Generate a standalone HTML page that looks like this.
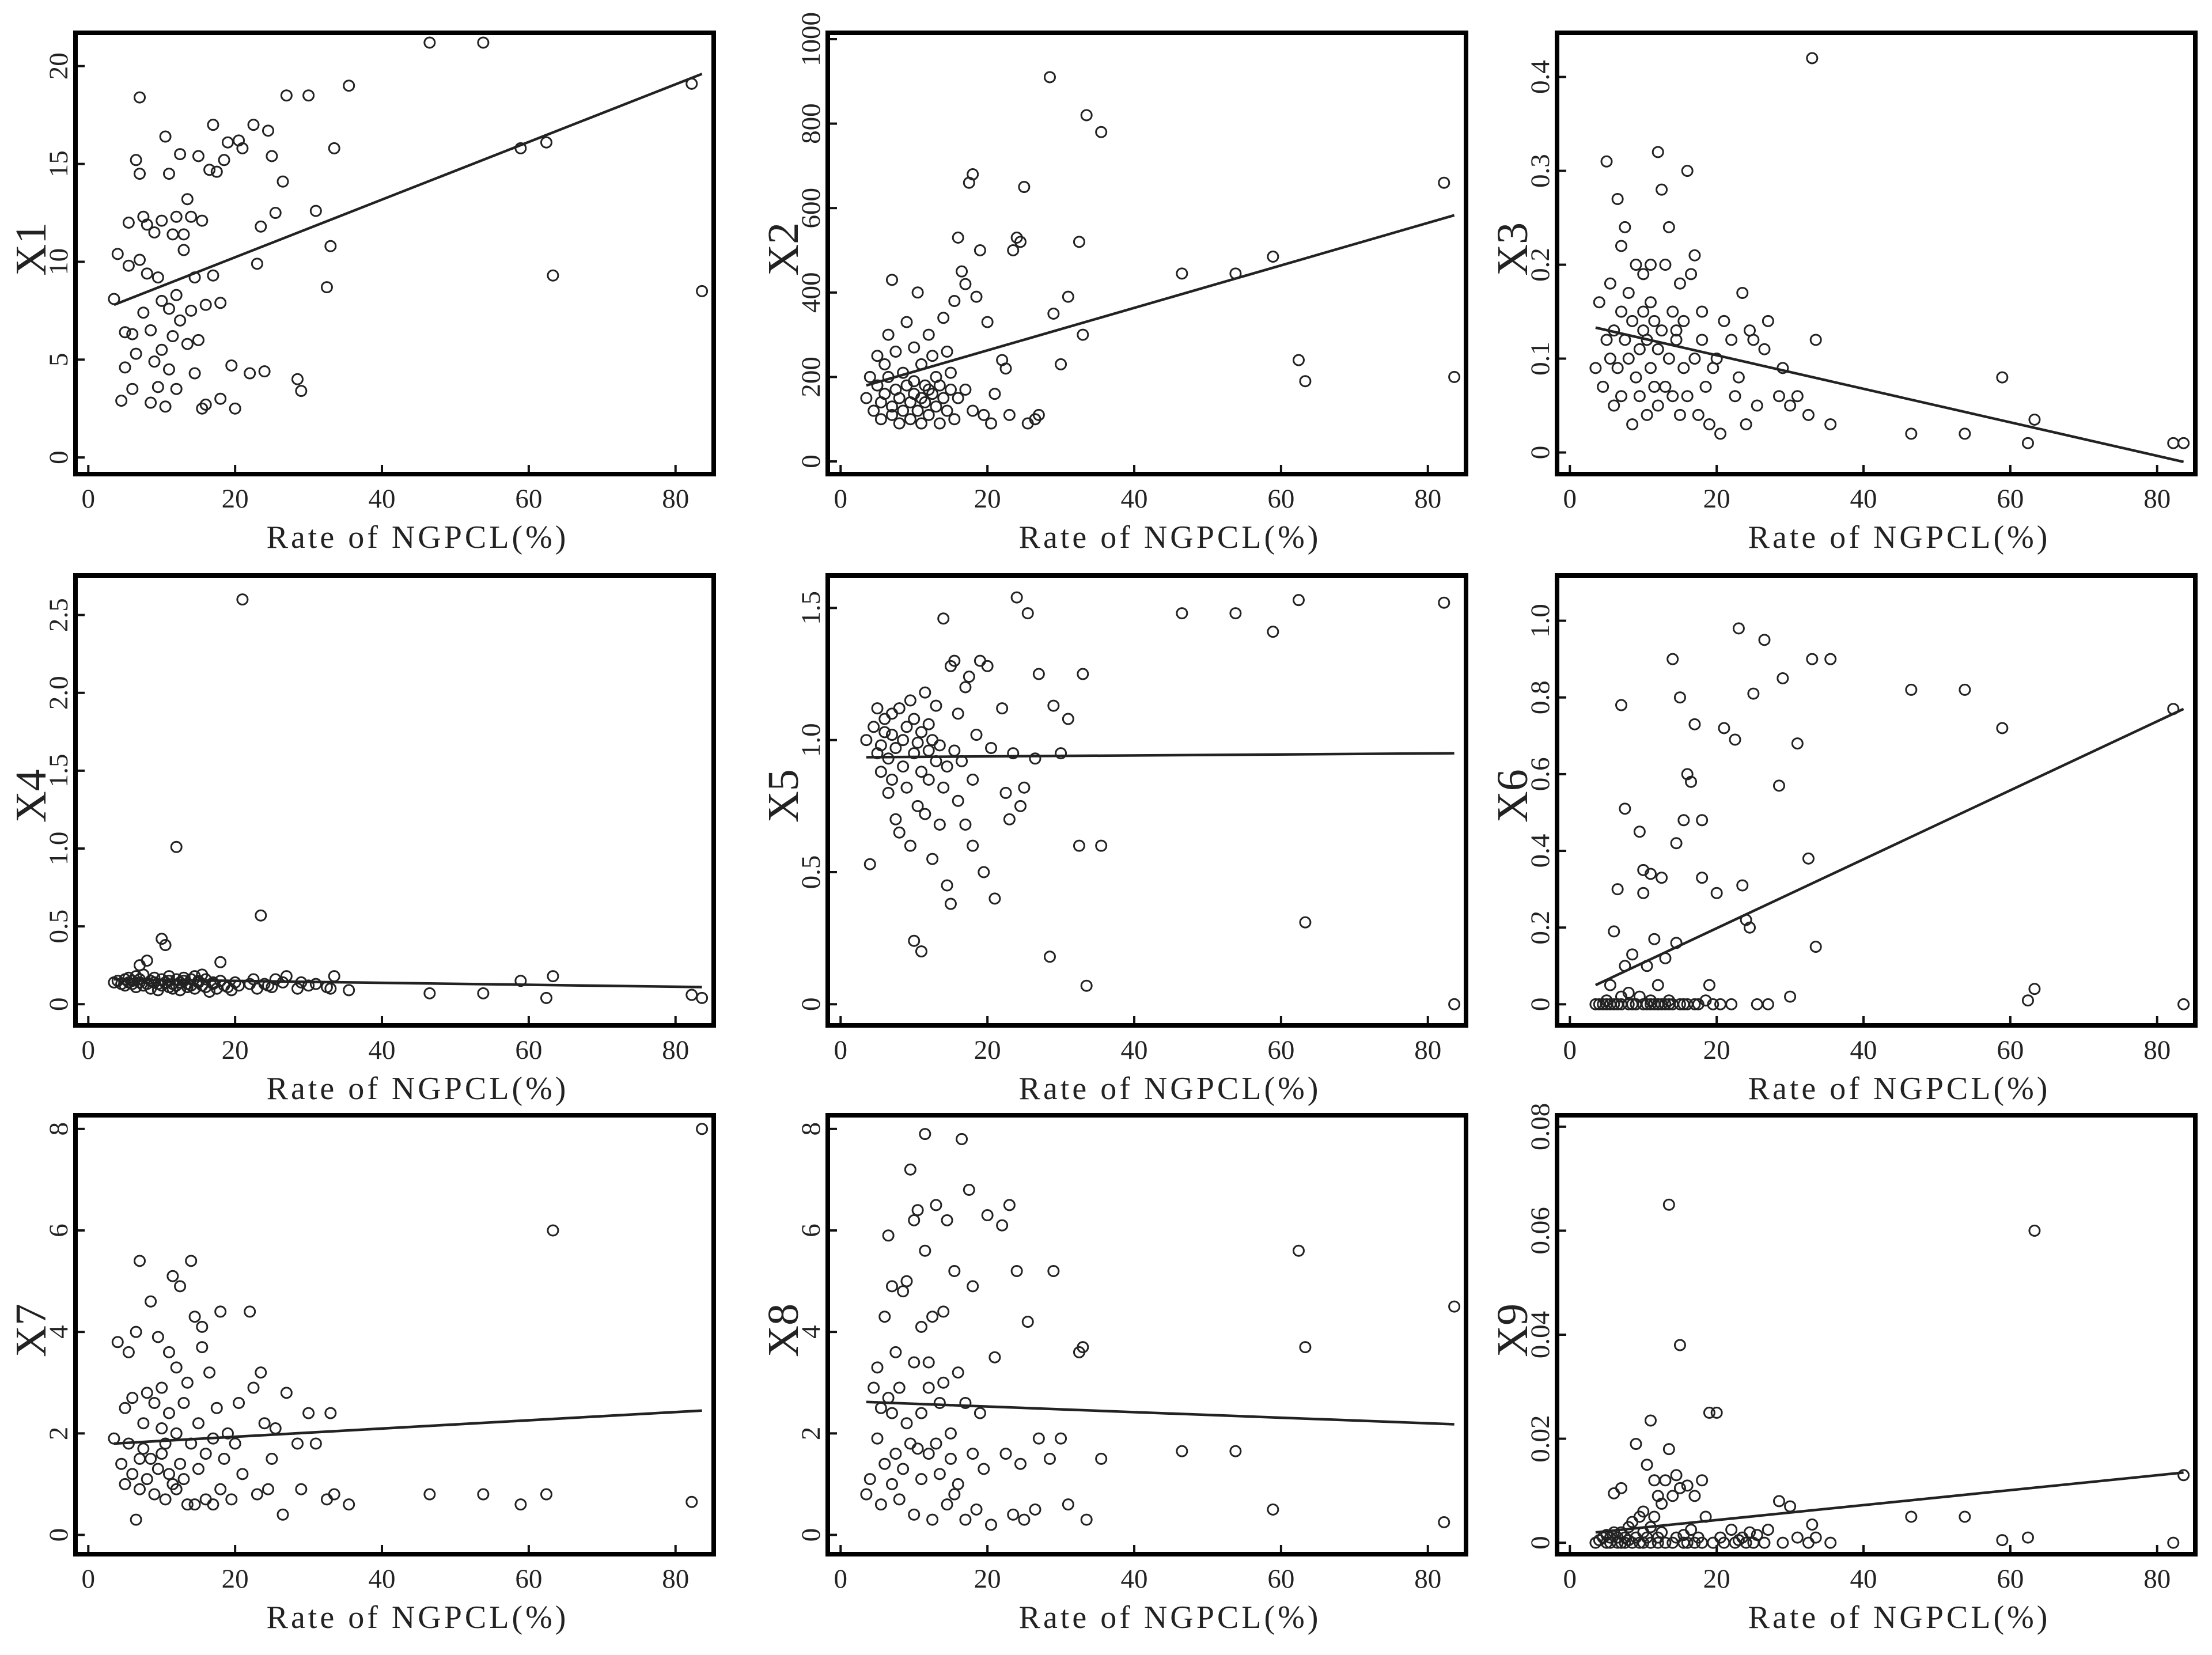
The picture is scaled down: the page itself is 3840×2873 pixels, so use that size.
<!DOCTYPE html>
<html><head><meta charset="utf-8"><style>
html,body{margin:0;padding:0;background:#fff;}
svg{display:block;font-family:"Liberation Serif",serif;}
</style></head><body>
<svg id="fig" width="3840" height="2873" viewBox="0 0 3840 2873" xmlns="http://www.w3.org/2000/svg">
<rect width="3840" height="2873" fill="#fff"/>
</svg>
<script>
const xRate = [3.5,4,4.5,5,5,5.5,5.5,6,6,6.5,6.5,7,7,7,7.5,7.5,8,8,8.5,8.5,9,9,9.5,9.5,10,10,10,10.5,10.5,11,11,11,11.5,11.5,12,12,12,12.5,12.5,13,13,13.5,13.5,14,14,14.5,14.5,15,15,15.5,15.5,16,16,16.5,17,17,17.5,18,18,18.5,19,19.5,20,20.5,21,22,22.5,23,23.5,24,24.5,25,25.5,26.5,27,28.5,29,30,31,32.5,33,33.5,35.5,46.5,53.8,58.9,62.4,63.3,82.2,83.6];
const yX1 = [8.1,10.4,2.9,6.4,4.6,12,9.8,6.3,3.5,5.3,15.2,10.1,18.4,14.5,7.4,12.3,11.9,9.4,2.8,6.5,11.5,4.9,3.6,9.2,8,12.1,5.5,2.6,16.4,7.6,14.5,4.5,11.4,6.2,8.3,12.3,3.5,15.5,7,11.4,10.6,13.2,5.8,7.5,12.3,4.3,9.2,15.4,6,12.1,2.5,7.8,2.7,14.7,9.3,17,14.6,7.9,3,15.2,16.1,4.7,2.5,16.2,15.8,4.3,17,9.9,11.8,4.4,16.7,15.4,12.5,14.1,18.5,4,3.4,18.5,12.6,8.7,10.8,15.8,19,21.2,21.2,15.8,16.1,9.3,19.1,8.5];
const yX2 = [150,200,120,250,180,100,140,230,160,300,200,110,130,430,170,260,90,150,210,120,330,180,140,100,270,160,190,120,400,150,230,90,180,140,300,170,110,250,160,130,200,90,180,150,340,120,260,210,170,100,380,530,150,450,170,420,660,680,120,390,500,110,330,90,160,240,220,110,500,530,520,650,90,100,110,910,350,230,390,520,300,820,780,445,445,485,240,190,660,200];
const yX3 = [0.09,0.16,0.07,0.31,0.12,0.18,0.1,0.05,0.13,0.27,0.09,0.15,0.22,0.06,0.12,0.24,0.1,0.17,0.03,0.14,0.2,0.08,0.11,0.06,0.15,0.19,0.13,0.04,0.12,0.2,0.09,0.16,0.07,0.14,0.32,0.11,0.05,0.28,0.13,0.2,0.07,0.24,0.1,0.15,0.06,0.13,0.12,0.04,0.18,0.09,0.14,0.3,0.06,0.19,0.1,0.21,0.04,0.15,0.12,0.07,0.03,0.09,0.1,0.02,0.14,0.12,0.06,0.08,0.17,0.03,0.13,0.12,0.05,0.11,0.14,0.06,0.09,0.05,0.06,0.04,0.42,0.12,0.03,0.02,0.02,0.08,0.01,0.035,0.01,0.01];
const yX4 = [0.14,0.15,0.13,0.16,0.12,0.14,0.17,0.13,0.15,0.18,0.11,0.25,0.14,0.16,0.12,0.19,0.13,0.28,0.1,0.15,0.14,0.17,0.09,0.13,0.16,0.42,0.12,0.38,0.14,0.11,0.18,0.15,0.1,0.13,0.16,1.01,0.12,0.14,0.09,0.15,0.17,0.11,0.13,0.16,0.12,0.1,0.18,0.14,0.15,0.19,0.12,0.11,0.16,0.08,0.13,0.14,0.1,0.27,0.15,0.12,0.11,0.09,0.14,0.12,2.6,0.13,0.16,0.1,0.57,0.13,0.12,0.11,0.16,0.14,0.18,0.1,0.14,0.12,0.13,0.11,0.1,0.18,0.09,0.07,0.07,0.15,0.04,0.18,0.06,0.04];
const yX5 = [1.0,0.53,1.05,0.95,1.12,0.98,0.88,1.08,1.03,0.8,0.93,1.02,0.85,1.1,0.7,0.97,1.12,0.65,1.0,0.9,1.05,0.82,1.15,0.6,0.95,0.24,1.08,0.75,0.99,0.2,1.03,0.88,1.18,0.72,0.96,1.06,0.85,1.0,0.55,0.92,1.13,0.68,0.98,0.82,1.46,0.45,0.9,1.28,0.38,0.96,1.3,0.77,1.1,0.92,1.2,0.68,1.24,0.85,0.6,1.02,1.3,0.5,1.28,0.97,0.4,1.12,0.8,0.7,0.95,1.54,0.75,0.82,1.48,0.93,1.25,0.18,1.13,0.95,1.08,0.6,1.25,0.07,0.6,1.48,1.48,1.41,1.53,0.31,1.52,0.0];
const yX6 = [0.0,0.0,0.0,0.01,0.0,0.05,0.0,0.19,0.0,0.3,0.0,0.78,0.02,0.0,0.51,0.1,0.0,0.03,0.0,0.13,0.0,0.0,0.45,0.02,0.35,0.0,0.29,0.0,0.1,0.0,0.01,0.34,0.0,0.17,0.0,0.05,0.0,0.33,0.0,0.12,0.0,0.01,0.0,0.9,0.0,0.42,0.16,0.0,0.8,0.0,0.48,0.6,0.0,0.58,0.0,0.73,0.0,0.33,0.48,0.01,0.05,0.0,0.29,0.0,0.72,0.0,0.69,0.98,0.31,0.22,0.2,0.81,0.0,0.95,0.0,0.57,0.85,0.02,0.68,0.38,0.9,0.15,0.9,0.82,0.82,0.72,0.01,0.04,0.77,0.0];
const yX7 = [1.9,3.8,1.4,2.5,1.0,3.6,1.8,2.7,1.2,0.3,4.0,1.5,5.4,0.9,2.2,1.7,2.8,1.1,4.6,1.5,2.6,0.8,3.9,1.3,2.1,1.6,2.9,0.7,1.8,3.6,1.2,2.4,5.1,1.0,2.0,3.3,0.9,1.4,4.9,2.6,1.1,3.0,0.6,5.4,1.8,4.3,0.6,2.2,1.3,3.7,4.1,0.7,1.6,3.2,0.6,1.9,2.5,0.9,4.4,1.5,2.0,0.7,1.8,2.6,1.2,4.4,2.9,0.8,3.2,2.2,0.9,1.5,2.1,0.4,2.8,1.8,0.9,2.4,1.8,0.7,2.4,0.8,0.6,0.8,0.8,0.6,0.8,6.0,0.65,8.0];
const yX8 = [0.8,1.1,2.9,1.9,3.3,0.6,2.5,4.3,1.4,5.9,2.7,1.0,2.4,4.9,1.6,3.6,0.7,2.9,4.8,1.3,2.2,5.0,1.8,7.2,0.4,6.2,3.4,1.7,6.4,2.4,4.1,1.1,5.6,7.9,2.9,1.6,3.4,0.3,4.3,1.8,6.5,2.6,1.2,4.4,3.0,0.6,6.2,1.5,2.0,0.8,5.2,3.2,1.0,7.8,2.6,0.3,6.8,1.6,4.9,0.5,2.4,1.3,6.3,0.2,3.5,6.1,1.6,6.5,0.4,5.2,1.4,0.3,4.2,0.5,1.9,1.5,5.2,1.9,0.6,3.6,3.7,0.3,1.5,1.65,1.65,0.5,5.6,3.7,0.25,4.5];
const yX9 = [0.0,0.0005,0.001,0.0,0.0015,0.001,0.0,0.002,0.0095,0.001,0.0,0.0105,0.002,0.0,0.001,0.0,0.003,0.0005,0.0,0.004,0.019,0.001,0.005,0.0,0.006,0.002,0.0,0.015,0.001,0.0235,0.003,0.0,0.012,0.005,0.001,0.009,0.0,0.0075,0.002,0.012,0.0,0.018,0.065,0.009,0.0,0.013,0.001,0.0105,0.038,0.0,0.0015,0.011,0.0,0.0025,0.009,0.0,0.001,0.012,0.0,0.005,0.025,0.0,0.025,0.001,0.0,0.0025,0.0,0.0005,0.001,0.0,0.002,0.0,0.0015,0.0,0.0025,0.008,0.0,0.007,0.001,0.0,0.0035,0.001,0.0,0.005,0.005,0.0005,0.001,0.06,0.0,0.013];
const seriesNames = ["X1","X2","X3","X4","X5","X6","X7","X8","X9"];
const fitStart = [7.8,180,0.133,0.16,0.935,0.05,1.8,2.62,0.002];
const fitEnd = [19.6,583,-0.01,0.11,0.95,0.77,2.45,2.18,0.0135];
const fitRange = [3.5,83.6];
const xTicks = [0,20,40,60,80];
const yTicks1 = [0,5,10,15,20];
const yTicks2 = [0,200,400,600,800,1000];
const yTicks3 = [0,0.1,0.2,0.3,0.4];
const yTicks4 = [0,0.5,1.0,1.5,2.0,2.5];
const yTicks5 = [0,0.5,1.0,1.5];
const yTicks6 = [0,0.2,0.4,0.6,0.8,1.0];
const yTicks7 = [0,2,4,6,8];
const yTicks8 = [0,2,4,6,8];
const yTicks9 = [0,0.02,0.04,0.06,0.08];

const allY=[yX1,yX2,yX3,yX4,yX5,yX6,yX7,yX8,yX9];
const allTicks=[yTicks1,yTicks2,yTicks3,yTicks4,yTicks5,yTicks6,yTicks7,yTicks8,yTicks9];
const yDomains=[[-0.85,21.7],[-30,1015],[-0.023,0.447],[-0.136,2.754],[-0.08,1.623],[-0.055,1.118],[-0.38,8.27],[-0.38,8.27],[-0.0022,0.0822]];
const xDomain=[-1.75,85.2];
const colLeft=[131,1437,2703], colW=1108;
const rowTop=[57,999,1936], rowH=[766,781,762];
const NS="http://www.w3.org/2000/svg";
const svg=document.getElementById('fig');
function mk(tag,attrs,parent){const e=document.createElementNS(NS,tag);for(const k in attrs)e.setAttribute(k,attrs[k]);(parent||svg).appendChild(e);return e;}
function decimals(ticks){let d=0;ticks.forEach(t=>{if(t<1&&t>0){const s=String(t);const i=s.indexOf('.');if(i>=0)d=Math.max(d,s.length-i-1);}else if(t%1!==0){d=Math.max(d,1);}});const hasFrac=ticks.some(t=>t%1!==0);return hasFrac?Math.max(d,1):0;}
function fmt(v,ticks){ if(Math.abs(v)<1e-12) return "0"; return v.toFixed(decimals(ticks)); }

for(let p=0;p<9;p++){
  const L=colLeft[p%3], T=rowTop[Math.floor(p/3)], H=rowH[Math.floor(p/3)], W=colW;
  const yd=yDomains[p];
  const sx=v=>L+(v-xDomain[0])/(xDomain[1]-xDomain[0])*W;
  const sy=v=>T+H-(v-yd[0])/(yd[1]-yd[0])*H;
  const g=mk('g',{});
  
  
  xTicks.forEach(t=>{
    const ln=mk('line',{x1:sx(t),x2:sx(t),y1:T+H,y2:T+H-16,stroke:'#111','stroke-width':4},g);
    
    
    const tx=mk('text',{x:sx(t),y:T+H+58,'font-size':47,'text-anchor':'middle',fill:'#222'},g);
    tx.textContent=String(t);
    
    
  });
  allTicks[p].forEach(t=>{
    const ln=mk('line',{x1:L,x2:L+16,y1:sy(t),y2:sy(t),stroke:'#111','stroke-width':4},g);
    
    
    const tx=mk('text',{x:0,y:0,'font-size':47,'text-anchor':'middle',fill:'#222',transform:`translate(${L-14},${sy(t)}) rotate(-90)`},g);
    tx.textContent=fmt(t,allTicks[p]);
    
    
  });
  const ys=allY[p], n=Math.min(xRate.length,ys.length);
  for(let i=0;i<n;i++){
    const c=mk('circle',{cx:sx(xRate[i]),cy:sy(ys[i]),r:9,fill:'none',stroke:'#222','stroke-width':3},g);
    
    
  }
  const fl=mk('line',{x1:sx(fitRange[0]),y1:sy(fitStart[p]),x2:sx(fitRange[1]),y2:sy(fitEnd[p]),stroke:'#222','stroke-width':4.5},g);
  
  
  const fr=mk('rect',{x:L,y:T,width:W,height:H,fill:'none',stroke:'#000','stroke-width':8},g);
  
  
  const xt=mk('text',{x:L+W/2+40,y:T+H+128,'font-size':56,'text-anchor':'middle','letter-spacing':5,fill:'#222'},g);
  xt.textContent='Rate of NGPCL(%)';
  
  
  const yt=mk('text',{x:0,y:0,'font-size':76,'text-anchor':'middle',fill:'#222',transform:`translate(${L-52},${T+H*0.49}) rotate(-90)`},g);
  yt.textContent=seriesNames[p];
  
  
}
</script>
</body></html>
